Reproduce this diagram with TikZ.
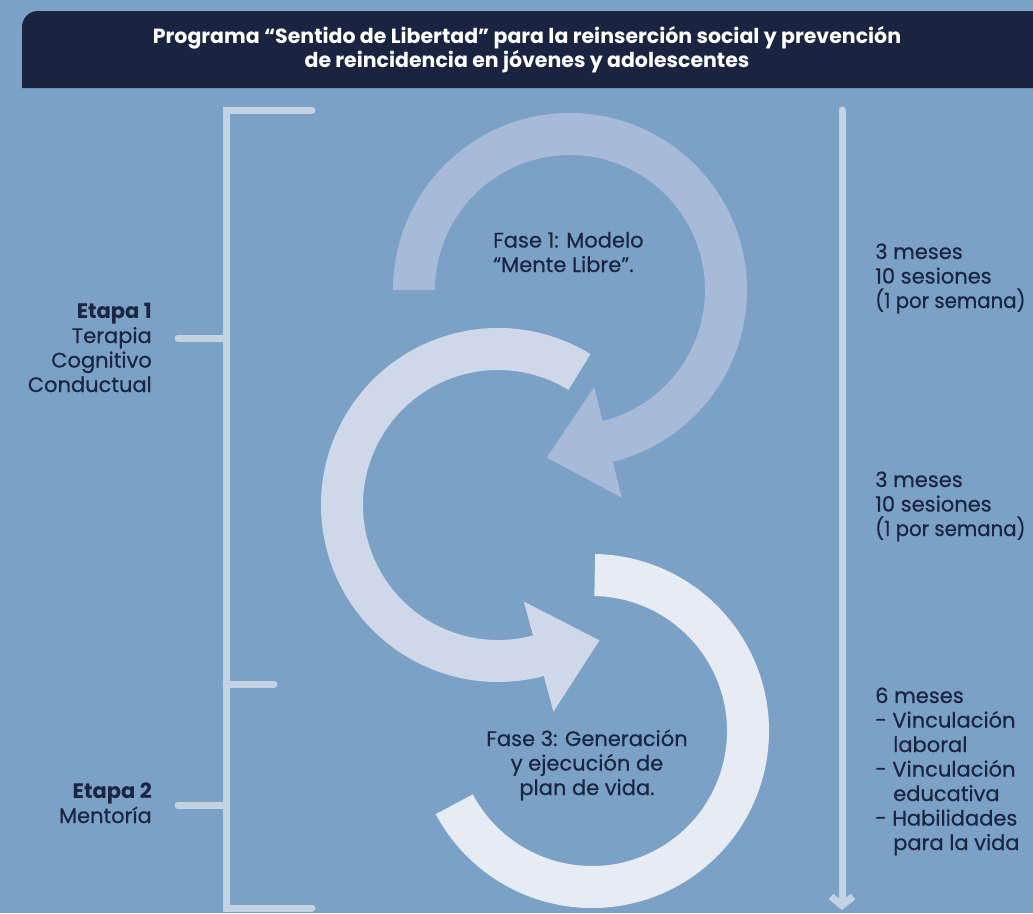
\documentclass[tikz,border=0pt]{standalone}
\usepackage{fontspec}
\setmainfont{Poppins}[UprightFeatures={FakeBold=0.5}]
\usetikzlibrary{arrows.meta,calc}

\definecolor{bgblue}{HTML}{7BA2C6}
\definecolor{navy}{HTML}{1A2440}
\definecolor{inkdark}{HTML}{1B2541}
\definecolor{arcone}{HTML}{A7BBD8}
\definecolor{arctwo}{HTML}{CED8E8}
\definecolor{arcthree}{HTML}{E6EBF4}
\definecolor{railgray}{HTML}{C5D2E4}

\begin{document}
\begin{tikzpicture}[
  x=1pt, y=-1pt,
  body/.style={font=\fontsize{21}{24.5}\selectfont, text=inkdark, inner sep=0pt},
  stage/.style={body, align=right, anchor=base east},
  note/.style={body, align=left, anchor=base west},
  phase/.style={body, align=center, anchor=base},
  headline/.style={font=\bfseries\fontsize{20.5}{24}\selectfont, text=white,
                   align=center, anchor=base, inner sep=0pt},
  rail/.style={draw=railgray, line width=7pt, line cap=round}
]

% ---------------- canvas ----------------
\fill[bgblue] (0,0) rectangle (1033,913);
\useasboundingbox (0,0) rectangle (1033,913);

% ---------------- header ----------------
\fill[navy] (22,88) [rounded corners=16pt] -- (22,11) [sharp corners] -- (1033,11)
  -- (1033,88) -- cycle;
\node[headline] (title) at (527,67)
  {Programa “Sentido de Libertad” para la reinserción social y prevención\\
   de reincidencia en jóvenes y adolescentes};

% ---------------- circular arrows ----------------
\coordinate (c1) at (570,290);
\coordinate (c2) at (498,505);
\coordinate (c3) at (592,731);

\fill[arcone] ($(c1)+(-180:177)$) arc[start angle=-180, end angle=76, radius=177]
  -- ($(c1)+(76:214)$) -- ($(c1)+(76:157)+(166:63)$) -- ($(c1)+(76:100)$)
  -- ($(c1)+(76:135)$) arc[start angle=76, end angle=-180, radius=135] -- cycle;

\fill[arctwo] ($(c2)+(-58.5:177)$) arc[start angle=-58.5, end angle=-285, radius=177]
  -- ($(c2)+(-285:214)$) -- ($(c2)+(-285:157)+(-15:63)$) -- ($(c2)+(-285:100)$)
  -- ($(c2)+(-285:135)$) arc[start angle=-285, end angle=-58.5, radius=135] -- cycle;

\fill[arcthree] ($(c3)+(-89:177)$) arc[start angle=-89, end angle=152, radius=177]
  -- ($(c3)+(152:135)$) arc[start angle=152, end angle=-89, radius=135] -- cycle;

% ---------------- phase labels ----------------
\node[note] (fase1) at (493,272) {Fase 1: Modelo\\“Mente Libre”.};
\node[phase] (fase3) at (587,795) {Fase 3: Generación\\y ejecución de\\plan de vida.};

% ---------------- stage bracket ----------------
\coordinate (brTopEnd) at (312,110);
\coordinate (brTop) at (226,110);
\coordinate (brBot) at (226,908);
\coordinate (brBotEnd) at (312,908);
\coordinate (midTick) at (274,684);
\coordinate (tick1) at (178,338);
\coordinate (tick2) at (178,805);
\draw[rail] (brTopEnd) -- (brTop) -- (brBot) -- (brBotEnd);
\draw[rail] (midTick) -- (midTick -| brTop);
\draw[rail] (tick1) -- (tick1 -| brTop);
\draw[rail] (tick2) -- (tick2 -| brTop);

\node[stage] (etapa1) at (152,392)
  {\textbf{Etapa 1}\\Terapia\\Cognitivo\\Conductual};
\node[stage] (etapa2) at (152,823) {\textbf{Etapa 2}\\Mentoría};

% ---------------- timeline ----------------
\coordinate (tlTop) at (842,110);
\coordinate (tlBot) at (842,910);
\draw[rail, -{Straight Barb[length=9pt, width=22pt]}] (tlTop) -- (tlBot);

\node[note] (dur1) at (875,308)
  {3 meses\\10 sesiones\\{\addfontfeature{FakeStretch=0.94}(1 por semana)}};
\node[note] (dur2) at (875,536)
  {3 meses\\10 sesiones\\{\addfontfeature{FakeStretch=0.94}(1 por semana)}};
\node[note] (dur3) at (875,850)
  {6 meses\\- Vinculación\\\hspace*{18pt}laboral\\- Vinculación\\\hspace*{18pt}educativa\\
   - Habilidades\\\hspace*{18pt}para la vida};

\end{tikzpicture}
\end{document}
